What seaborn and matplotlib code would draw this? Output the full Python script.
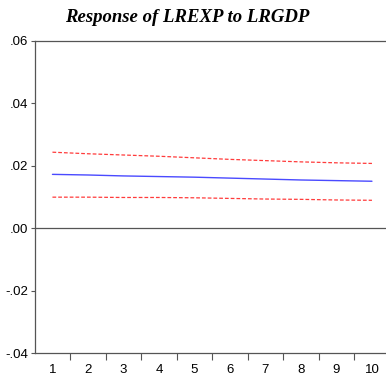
import matplotlib
matplotlib.use("Agg")
import matplotlib.pyplot as plt
import numpy as np
import pandas as pd
import seaborn as sns

# Impulse response of LREXP to a shock in LRGDP, with +/- 2 S.E. bands
periods = [1, 2, 3, 4, 5, 6, 7, 8, 9, 10]
response = [0.0172, 0.0170, 0.0167, 0.0165, 0.0163, 0.0160, 0.0157, 0.0154, 0.0152, 0.0150]
upper_band = [0.0243, 0.0238, 0.0234, 0.0230, 0.0225, 0.0220, 0.0216, 0.0212, 0.0209, 0.0207]
lower_band = [0.0099, 0.0099, 0.0098, 0.0098, 0.0097, 0.0095, 0.0093, 0.0092, 0.0090, 0.0089]
y_ticks = [-0.04, -0.02, 0.00, 0.02, 0.04, 0.06]
y_tick_labels = ["-.04", "-.02", ".00", ".02", ".04", ".06"]
title = "Response of LREXP to LRGDP"

df = pd.DataFrame({
    "period": periods,
    "response": response,
    "upper": upper_band,
    "lower": lower_band,
})

sns.set_theme(style="white")
plt.rcParams["font.family"] = ["Liberation Sans Narrow", "Liberation Sans", "DejaVu Sans"]
plt.rcParams["text.color"] = "black"

fig = plt.figure(figsize=(3.86, 3.79), dpi=100)
ax = fig.add_axes([0.0899, 0.0686, 0.9197, 0.824])

axis_grey = "#555555"

sns.lineplot(data=df, x="period", y="upper", ax=ax, color="#ff3b3b",
             linewidth=0.9, linestyle=(0, (3, 1.6)))
sns.lineplot(data=df, x="period", y="lower", ax=ax, color="#ff3b3b",
             linewidth=0.9, linestyle=(0, (3, 1.6)))
sns.lineplot(data=df, x="period", y="response", ax=ax, color="#4a4aff",
             linewidth=1.0)

ax.axhline(0.0, color=axis_grey, linewidth=0.9, zorder=1)

ax.set_xlim(0.5, 10.5)
ax.set_ylim(-0.04, 0.06)

# category labels centred, tick marks between categories
ax.set_xticks(periods)
ax.set_xticklabels([str(p) for p in periods])
ax.set_xticks(np.arange(1.5, 10.5, 1.0), minor=True)
ax.tick_params(axis="x", which="major", length=0, pad=8, labelsize=9.5)
ax.tick_params(axis="x", which="minor", bottom=True, length=5, width=0.8,
               color=axis_grey, direction="out")

ax.set_yticks(y_ticks)
ax.set_yticklabels(y_tick_labels)
ax.tick_params(axis="y", which="major", left=True, length=3, width=0.8,
               color=axis_grey, direction="out", pad=2, labelsize=9.5)
for lbl in ax.get_yticklabels() + ax.get_xticklabels():
    lbl.set_color("black")

ax.set_xlabel("")
ax.set_ylabel("")

for side in ["left", "top", "bottom"]:
    ax.spines[side].set_visible(True)
    ax.spines[side].set_color(axis_grey)
    ax.spines[side].set_linewidth(0.9)
ax.spines["right"].set_visible(False)

fig.text(0.486, 0.955, title, ha="center", va="center", color="black",
         family=["Liberation Serif", "DejaVu Serif"], fontweight="bold",
         fontstyle="italic", fontsize=13.5)

fig.savefig("out.png", dpi=100)
